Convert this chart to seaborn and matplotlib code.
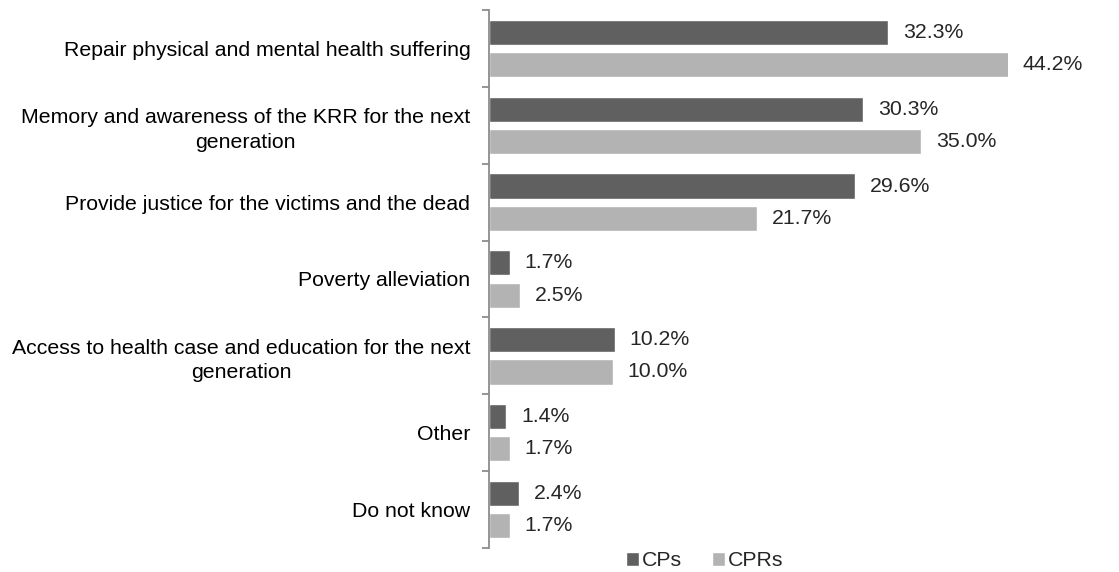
import matplotlib
matplotlib.use("Agg")
import matplotlib.pyplot as plt
import seaborn as sns
import pandas as pd
import numpy as np

categories = [
    "Repair physical and mental health suffering",
    "Memory and awareness of the KRR for the next\ngeneration",
    "Provide justice for the victims and the dead",
    "Poverty alleviation",
    "Access to health case and education for the next\ngeneration",
    "Other",
    "Do not know",
]
cps = [32.3, 30.3, 29.6, 1.7, 10.2, 1.4, 2.4]
cprs = [44.2, 35.0, 21.7, 2.5, 10.0, 1.7, 1.7]
series = ["CPs", "CPRs"]
colors = ["#606060", "#b3b3b3"]
xmax = 42

sns.set_style("white")
plt.rcParams["font.family"] = ["Liberation Sans", "DejaVu Sans"]
FS = 15.3

df = pd.DataFrame({
    "cat": categories * 2,
    "val": cps + cprs,
    "ser": [series[0]] * len(cps) + [series[1]] * len(cprs),
})

fig = plt.figure(figsize=(11.19, 5.72), dpi=100)
ax = fig.add_axes([489 / 1119, 24 / 572, (1008 - 489) / 1119, (562 - 24) / 572])
sns.barplot(data=df, y="cat", x="val", hue="ser", palette=colors, orient="h",
            width=0.84, gap=0.22, ax=ax, legend=True)
ax.set_xlim(0, xmax)
ax.set_ylim(len(categories) - 0.5, -0.5)
ax.set_xlabel("")
ax.set_ylabel("")
ax.set_xticks([])
for s in ["top", "right", "bottom"]:
    ax.spines[s].set_visible(False)
ax.spines["left"].set_color("#8c8c8c")
ax.spines["left"].set_linewidth(1.3)

ax.set_yticks(range(len(categories)))
ax.set_yticklabels(categories, fontsize=FS, multialignment="center", color="#000000",
                   linespacing=1.35)
ax.tick_params(axis="y", which="major", left=True, length=0, pad=13.5)
ax.set_yticks(np.arange(-0.5, len(categories)), minor=True)
ax.tick_params(axis="y", which="minor", left=True, length=5, width=1.3,
               color="#8c8c8c", direction="out")

for cont in ax.containers:
    for bar in cont:
        w = bar.get_width()
        y = bar.get_y() + bar.get_height() / 2
        ax.text(min(w, xmax) + 1.2, y, f"{w:.1f}%", va="center", ha="left",
                fontsize=FS, clip_on=False)

leg = ax.legend(loc="center", bbox_to_anchor=(705 / 1119, 11 / 572),
                bbox_transform=fig.transFigure, ncol=2, frameon=False,
                fontsize=FS, handlelength=0.6, handleheight=0.6, handletextpad=0.15,
                columnspacing=1.4, borderpad=0)

fig.savefig("out.png", dpi=100)
